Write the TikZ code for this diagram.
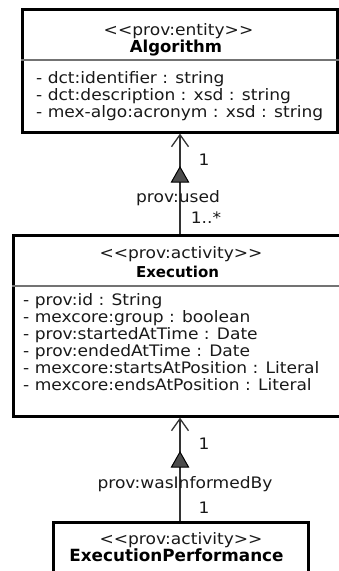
\documentclass[tikz,border=0pt]{standalone}
\usepackage{fontspec}
\setmainfont[FakeStretch=1.08, Ligatures=TeXOff]{DejaVu Sans}
\newfontfamily\boldface[Ligatures=TeXOff]{DejaVu Sans Bold}
\usetikzlibrary{arrows.meta}
\tikzset{
  box/.style={draw=black, line width=2.6pt, inner sep=0pt, anchor=north west},
  divider/.style={draw=black!55, line width=1.4pt},
  txt/.style={font=\fontsize{15.8}{17}\selectfont, inner sep=0pt, text=black!90, anchor=base},
  ttl/.style={inner sep=0pt, text=black, anchor=base},
  attr/.style={txt, anchor=base west},
  assoc/.style={draw=black!80, line width=1.3pt, -{Straight Barb[length=12pt, width=17pt, line width=1.3pt]}},
  navtri/.style={draw=black, line width=1pt, fill=black!70},
}
\begin{document}
\begin{tikzpicture}[x=1pt,y=-1pt]
\useasboundingbox (0,0) rectangle (339,571);
% Algorithm
\node[box, minimum width=315pt, minimum height=123pt] (alg) at (21,8) {};
\draw[divider] (alg.west |- 0,60) -- (alg.east |- 0,60);
\node[txt] (algst) at (178.5,35) {<\kern0pt<prov:entity>\kern0pt>};
\node[ttl, font=\fontsize{16.5}{17}\boldface] (algnm) at (176,52) {Algorithm};
\node[attr] (a1) at (36,83) {- dct:identifier : string};
\node[attr] (a2) at (36,100) {- dct:description : xsd : string};
\node[attr] (a3) at (36,117) {- mex-algo:acronym : xsd : string};
% Execution
\node[box, minimum width=333pt, minimum height=181pt] (exe) at (12,234) {};
\draw[divider] (exe.west |- 0,286) -- (exe.east |- 0,286);
\node[txt] (exest) at (181,258) {<\kern0pt<prov:activity>\kern0pt>};
\node[ttl, font=\fontsize{15}{17}\boldface] (exenm) at (177.5,277) {Execution};
\node[attr] (e1) at (23,305) {- prov:id : String};
\node[attr] (e2) at (23,322) {- mexcore:group : boolean};
\node[attr] (e3) at (23,339) {- prov:startedAtTime : Date};
\node[attr] (e4) at (23,356) {- prov:endedAtTime : Date};
\node[attr] (e5) at (23,373) {- mexcore:startsAtPosition : Literal};
\node[attr] (e6) at (23,390) {- mexcore:endsAtPosition : Literal};
% ExecutionPerformance
\node[box, minimum width=255pt, minimum height=90pt] (ep) at (52,521) {};
\node[txt] (epst) at (181,544) {<\kern0pt<prov:activity>\kern0pt>};
\node[ttl, font=\fontsize{16.8}{17}\boldface] (epnm) at (176.5,561) {ExecutionPerformance};
% connectors
\coordinate (cx) at (180,0);
\draw[assoc] (cx |- exe.north) -- (cx |- alg.south);
\filldraw[navtri] (180,167) -- (188.5,182) -- (171.5,182) -- cycle;
\node[txt] (m1) at (204,165) {1};
\node[txt] (l1) at (178,202) {prov:used};
\node[txt] (m2) at (206,223) {1..*};
\draw[assoc] (cx |- ep.north) -- (cx |- exe.south);
\filldraw[navtri] (180,452) -- (188.5,467) -- (171.5,467) -- cycle;
\node[txt] (m3) at (204,449) {1};
\node[txt] (l2) at (185,488) {prov:wasInformedBy};
\node[txt] (m4) at (204,513) {1};
\end{tikzpicture}
\end{document}
